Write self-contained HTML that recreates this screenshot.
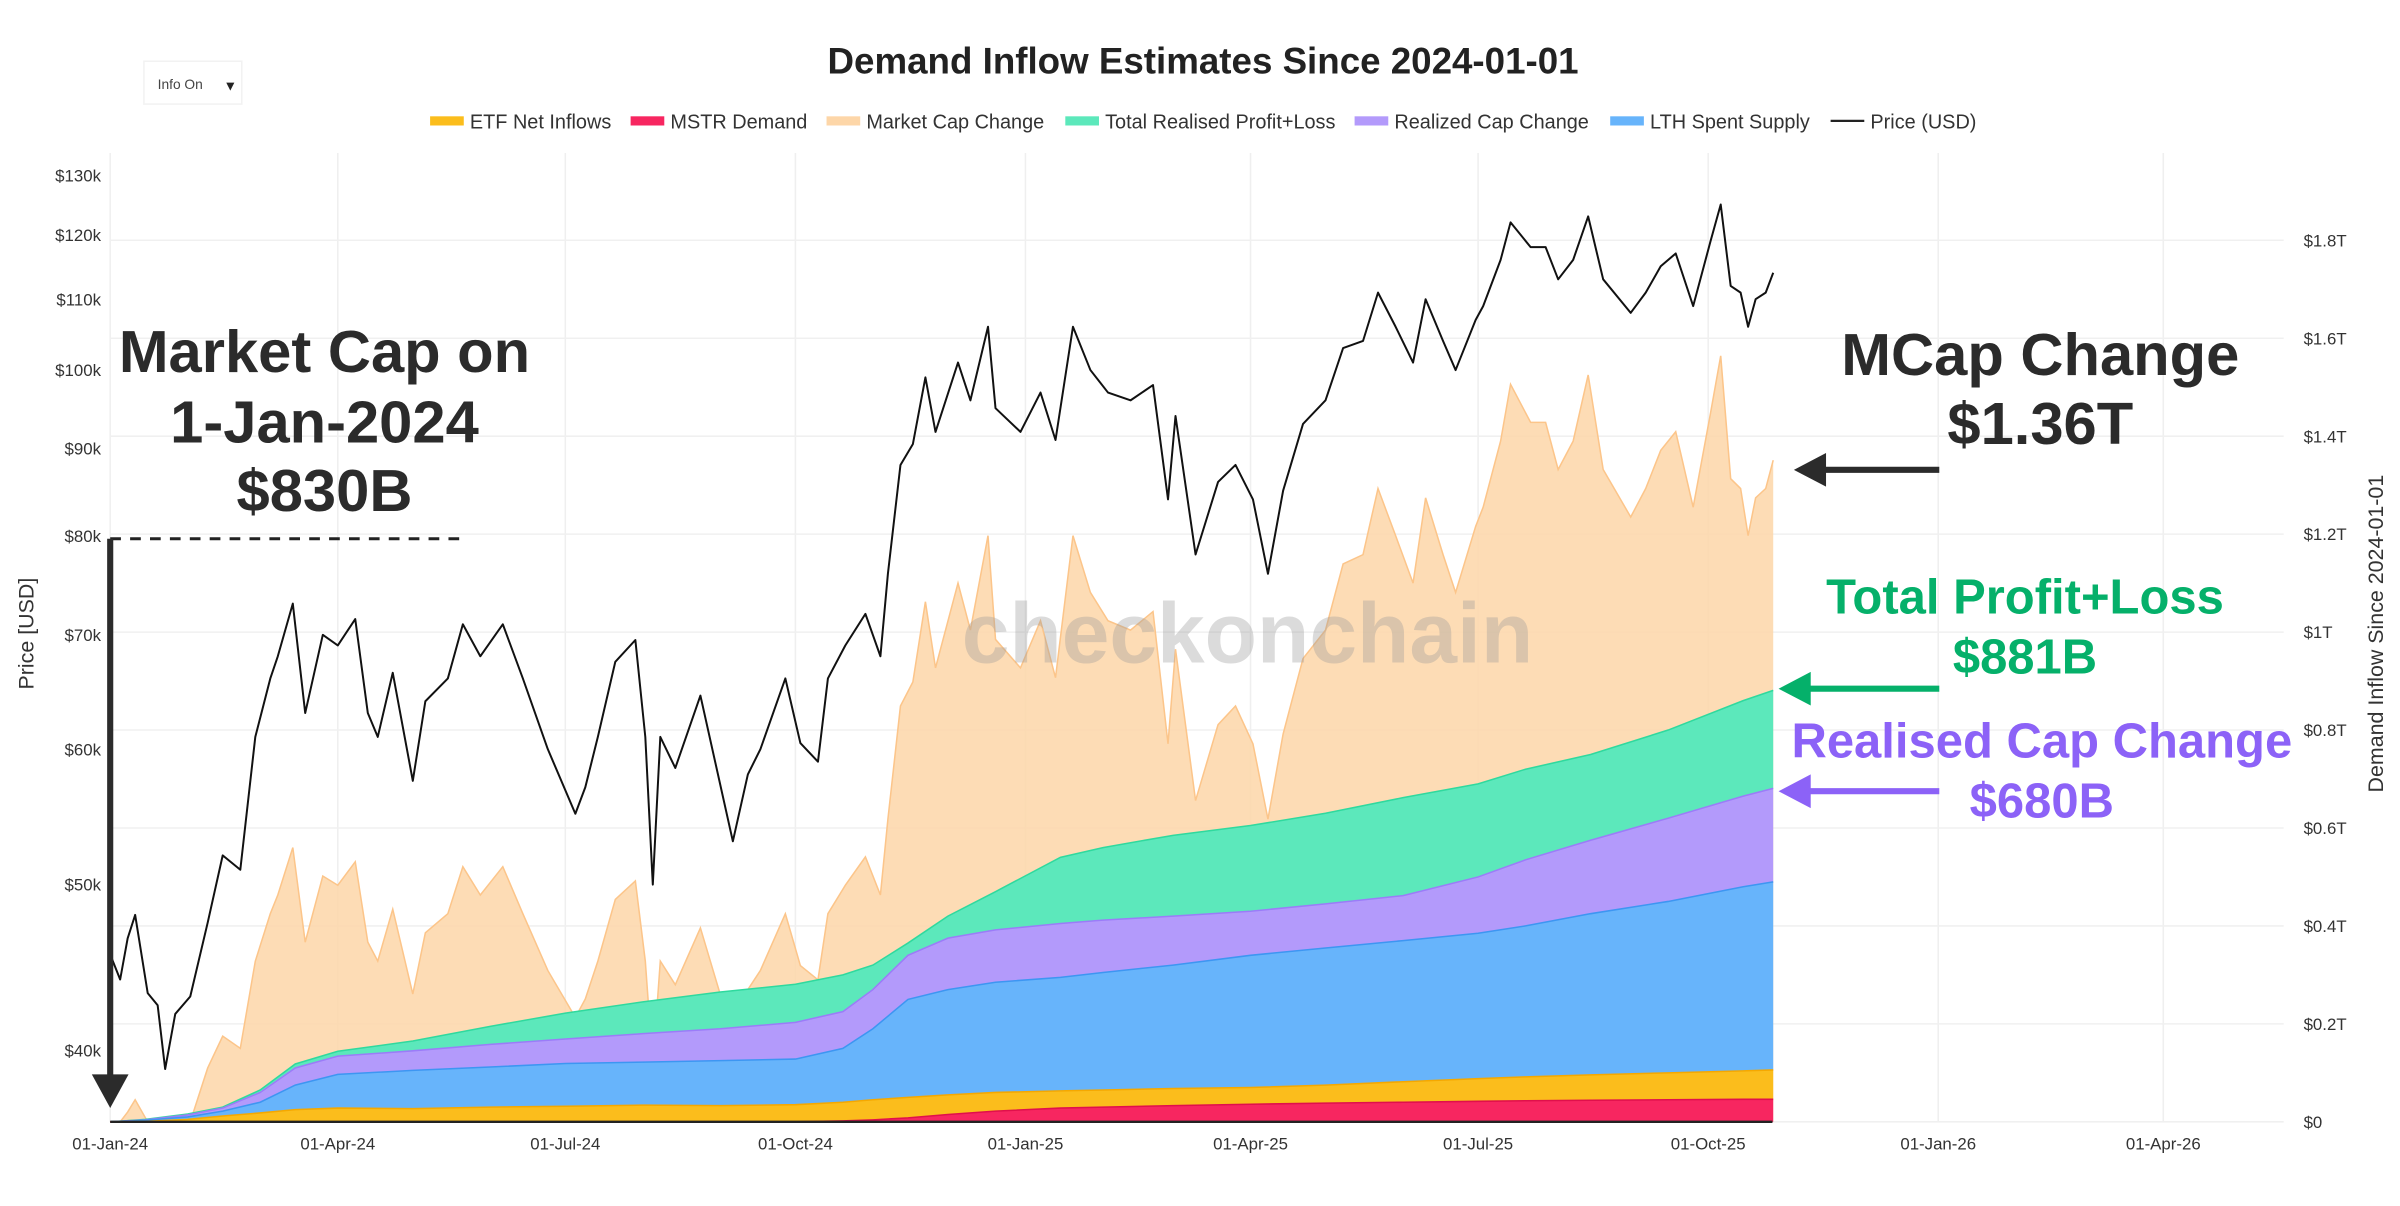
<!DOCTYPE html>
<html><head><meta charset="utf-8">
<style>
html,body{margin:0;padding:0;background:#fff;}
svg{display:block;font-family:"Liberation Sans",sans-serif;}
</style></head>
<body>
<svg id="chart" width="2400" height="1206" viewBox="0 0 1568 788" preserveAspectRatio="none" xmlns="http://www.w3.org/2000/svg">
  <rect x="0" y="0" width="1568" height="788" fill="#fff"/>
  <g id="grid"></g>
  <g id="areas"></g>
  <g id="priceG"></g>
  <g id="axes"></g>
  <text x="815" y="433" text-anchor="middle" font-size="56" font-weight="bold" fill="#999" fill-opacity="0.35">checkonchain</text>

  <text x="786" y="48" text-anchor="middle" font-size="24" font-weight="bold" fill="#222">Demand Inflow Estimates Since 2024-01-01</text>
  <g>
    <rect x="94" y="40" width="64" height="28" fill="#fff" stroke="#f2f2f2"/>
    <text x="103" y="58" font-size="9" fill="#444">Info On</text>
    <text x="146" y="59" font-size="9" fill="#222">▼</text>
  </g>
  <g id="legend"></g>

  <text transform="translate(22,414) rotate(-90)" text-anchor="middle" font-size="14" fill="#333">Price [USD]</text>
  <text transform="translate(1557,414) rotate(-90)" text-anchor="middle" font-size="14" fill="#333">Demand Inflow Since 2024-01-01</text>

  <g font-weight="bold" fill="#2b2b2b" font-size="39" text-anchor="middle">
    <text x="212" y="243">Market Cap on</text>
    <text x="212" y="289">1-Jan-2024</text>
    <text x="212" y="334">$830B</text>
  </g>
  <line x1="72" y1="352" x2="302" y2="352" stroke="#222" stroke-width="2" stroke-dasharray="7,6"/>
  <line x1="72" y1="352" x2="72" y2="705" stroke="#2b2b2b" stroke-width="4"/>
  <polygon points="60,702 84,702 72,724" fill="#2b2b2b"/>

  <g font-weight="bold" fill="#2b2b2b" font-size="39" text-anchor="middle">
    <text x="1333" y="245">MCap Change</text>
    <text x="1333" y="290">$1.36T</text>
  </g>
  <line x1="1190" y1="307" x2="1267" y2="307" stroke="#2b2b2b" stroke-width="4"/>
  <polygon points="1172,307 1193,296 1193,318" fill="#2b2b2b"/>

  <g font-weight="bold" fill="#05b06a" font-size="32" text-anchor="middle">
    <text x="1323" y="401">Total Profit+Loss</text>
    <text x="1323" y="440">$881B</text>
  </g>
  <line x1="1180" y1="450" x2="1267" y2="450" stroke="#05b06a" stroke-width="4"/>
  <polygon points="1162,450 1183,439 1183,461" fill="#05b06a"/>

  <g font-weight="bold" fill="#8c62f7" font-size="32" text-anchor="middle">
    <text x="1334" y="495">Realised Cap Change</text>
    <text x="1334" y="534">$680B</text>
  </g>
  <line x1="1180" y1="517" x2="1267" y2="517" stroke="#8c62f7" stroke-width="4"/>
  <polygon points="1162,517 1183,506 1183,528" fill="#8c62f7"/>
</svg>
<script>
// ---- data ----
const xTickLabels = ["01-Jan-24","01-Apr-24","01-Jul-24","01-Oct-24","01-Jan-25","01-Apr-25","01-Jul-25","01-Oct-25","01-Jan-26","01-Apr-26"];
const xTickDates = ["2024-01-01","2024-04-01","2024-07-01","2024-10-01","2025-01-01","2025-04-01","2025-07-01","2025-10-01","2026-01-01","2026-04-01"];
const priceTicks = [40,50,60,70,80,90,100,110,120,130];
const inflowTicks = [0,200,400,600,800,1000,1200,1400,1600,1800];
const inflowTickLabels = ["$0","$0.2T","$0.4T","$0.6T","$0.8T","$1T","$1.2T","$1.4T","$1.6T","$1.8T"];

const priceDates = ["2024-01-01","2024-01-05","2024-01-08","2024-01-11","2024-01-16","2024-01-20","2024-01-23","2024-01-27","2024-02-02","2024-02-09","2024-02-15","2024-02-22","2024-02-28","2024-03-05","2024-03-08","2024-03-14","2024-03-19","2024-03-26","2024-04-01","2024-04-08","2024-04-13","2024-04-17","2024-04-23","2024-05-01","2024-05-06","2024-05-15","2024-05-21","2024-05-28","2024-06-06","2024-06-14","2024-06-24","2024-07-05","2024-07-09","2024-07-14","2024-07-21","2024-07-29","2024-08-02","2024-08-05","2024-08-08","2024-08-14","2024-08-24","2024-09-06","2024-09-12","2024-09-17","2024-09-27","2024-10-03","2024-10-10","2024-10-14","2024-10-21","2024-10-29","2024-11-04","2024-11-07","2024-11-12","2024-11-17","2024-11-22","2024-11-26","2024-12-05","2024-12-10","2024-12-17","2024-12-20","2024-12-30","2025-01-07","2025-01-13","2025-01-20","2025-01-27","2025-02-03","2025-02-12","2025-02-21","2025-02-27","2025-03-02","2025-03-10","2025-03-19","2025-03-26","2025-04-02","2025-04-08","2025-04-14","2025-04-22","2025-05-01","2025-05-08","2025-05-16","2025-05-22","2025-05-29","2025-06-05","2025-06-10","2025-06-17","2025-06-22","2025-06-30","2025-07-03","2025-07-10","2025-07-14","2025-07-22","2025-07-28","2025-08-02","2025-08-08","2025-08-14","2025-08-20","2025-08-31","2025-09-06","2025-09-12","2025-09-18","2025-09-25","2025-10-02","2025-10-06","2025-10-10","2025-10-14","2025-10-17","2025-10-20","2025-10-24","2025-10-27"];
const priceK = [45.5,44,46.5,48,43.2,42.5,39,42,43,47.5,52,51,61,66,68,73,63,70,69,71.5,63,61,66.5,57.5,64,66,71,68,71,66,60,55,57,61,67.5,69.5,61,50,61,58.5,64.5,53,58,60,66,60.5,59,66,69,72,68,76,88,90.5,99,92,101,96,106,95,92,97,91,106,100,97,96,98,84,94,78,86,88,84,76,85,93,96,103,104,111,106,101,110,104,100,107,109,116,122,118,118,113,116,123,113,108,111,115,117,109,119,125,112,111,106,110,111,114];
const mcapChangeB = [0,0,20,45,0,0,0,0,0,110,175,150,328,425,463,560,367,502,483,531,367,328,434,261,386,425,521,463,521,425,309,213,251,328,454,492,328,116,328,280,396,174,270,309,425,319,290,425,483,541,463,618,849,898,1062,927,1100,1004,1197,985,927,1023,907,1197,1081,1023,1004,1042,772,965,656,811,849,772,618,792,946,1004,1139,1158,1293,1197,1100,1274,1158,1081,1216,1255,1390,1506,1428,1428,1332,1390,1525,1332,1235,1293,1371,1409,1255,1448,1564,1313,1293,1197,1274,1293,1351];

const flowDates = ["2024-01-01","2024-01-15","2024-02-01","2024-02-15","2024-03-01","2024-03-15","2024-04-01","2024-05-01","2024-06-01","2024-07-01","2024-08-01","2024-09-01","2024-10-01","2024-10-20","2024-11-01","2024-11-15","2024-12-01","2024-12-20","2025-01-15","2025-02-01","2025-03-01","2025-04-01","2025-05-01","2025-06-01","2025-07-01","2025-07-20","2025-08-15","2025-09-15","2025-10-15","2025-10-27"];
const mstrB   = [0,0,0,0,0,0,0,0,0,0,0,0,0,2,4,8,15,22,28,30,33,36,38,40,42,43,44,45,46,46];
const etfB    = [0,1,5,12,18,25,28,27,30,32,34,33,35,38,41,42,40,38,35,35,35,34,37,42,46,49,52,55,58,60];
const lthB    = [0,2,5,10,22,50,69,78,82,87,88,92,93,110,145,200,215,225,232,240,252,270,280,288,297,308,329,350,376,384];
const rcExtraB= [0,1,4,6,20,35,37,40,46,50,58,65,75,75,80,90,105,107,110,107,100,90,90,92,115,135,150,170,185,191];
const plExtraB= [0,1,2,2,5,8,10,20,37,53,65,75,78,75,50,25,45,78,135,148,165,175,185,200,190,185,175,180,195,200];

// ---- scales ----
const T0 = Date.UTC(2024,0,1);
function days(d){const p=d.split('-');return (Date.UTC(+p[0],+p[1]-1,+p[2])-T0)/86400000;}
function xS(d){return 72 + days(d)*1.6338;}
function yP(k){return 350 - 485*Math.log(k/80);}
function yR(b){return 733 - b*0.32;}

const NS="http://www.w3.org/2000/svg";
function mk(tag,attrs,parent){const e=document.createElementNS(NS,tag);for(const k in attrs)e.setAttribute(k,attrs[k]);parent.appendChild(e);return e;}

// grid
const grid=document.getElementById('grid');
xTickDates.forEach((d,i)=>{
  const l=mk('line',{x1:xS(d),x2:xS(d),y1:100,y2:733,stroke:'#efefef','stroke-width':1},grid);
  
  
});
inflowTicks.forEach(t=>{
  const l=mk('line',{x1:72,x2:1492,y1:yR(t),y2:yR(t),stroke:'#f0f0f0','stroke-width':1},grid);
  
  
});

// areas
const areas=document.getElementById('areas');
function areaPath(dates,tops,bottoms){
  let s='';
  dates.forEach((d,i)=>{s+=(i?'L':'M')+xS(d).toFixed(1)+','+yR(tops[i]).toFixed(1);});
  for(let i=dates.length-1;i>=0;i--){s+='L'+xS(dates[i]).toFixed(1)+','+yR(bottoms?bottoms[i]:0).toFixed(1);}
  return s+'Z';
}
function linePath(dates,vals,yf){
  let s='';dates.forEach((d,i)=>{s+=(i?'L':'M')+xS(d).toFixed(1)+','+yf(vals[i]).toFixed(1);});return s;
}
const mc=mk('path',{d:areaPath(priceDates,mcapChangeB),fill:'#fdd6a8','fill-opacity':0.85},areas);


const mcl=mk('path',{d:linePath(priceDates,mcapChangeB,yR),fill:'none',stroke:'#fcc58a','stroke-width':1},areas);



const s1=mstrB.slice();
const s2=s1.map((v,i)=>v+etfB[i]);
const s3=s2.map((v,i)=>v+lthB[i]);
const s4=s3.map((v,i)=>v+rcExtraB[i]);
const s5=s4.map((v,i)=>v+plExtraB[i]);
const layers=[
  [s5,s4,'#5ce8bb','#2fd99e','total-profit-loss-area'],
  [s4,s3,'#b39afb','#9b7cf8','realized-cap-change-area'],
  [s3,s2,'#67b4fb','#3d96f2','lth-spent-supply-area'],
  [s2,s1,'#fbbd1c','#f5a800','etf-net-inflows-area'],
  [s1,null,'#f72660','#e0104c','mstr-demand-area']
];
layers.forEach(L=>{
  const p=mk('path',{d:areaPath(flowDates,L[0],L[1]),fill:L[2]},areas);
  
  
  const ln=mk('path',{d:linePath(flowDates,L[0],yR),fill:'none',stroke:L[3],'stroke-width':1},areas);
  
  
});

// price line
const pg=document.getElementById('priceG');
const pl=mk('path',{d:linePath(priceDates,priceK,yP),fill:'none',stroke:'#111','stroke-width':1.3,'stroke-linejoin':'round'},pg);



// axes
const ax=document.getElementById('axes');
const base=mk('line',{x1:72,x2:1158,y1:733,y2:733,stroke:'#222','stroke-width':1.5},ax);


xTickDates.forEach((d,i)=>{
  const t=mk('text',{x:xS(d),y:751,'text-anchor':'middle','font-size':11,fill:'#333'},ax);
  t.textContent=xTickLabels[i];
  
  
});
priceTicks.forEach(v=>{
  const t=mk('text',{x:66,y:yP(v)+4,'text-anchor':'end','font-size':11,fill:'#333'},ax);
  t.textContent='$'+v+'k';
  
  
});
inflowTicks.forEach((v,i)=>{
  const t=mk('text',{x:1505,y:yR(v)+4,'font-size':11,fill:'#333'},ax);
  t.textContent=inflowTickLabels[i];
  
  
});

// legend
const lg=document.getElementById('legend');
const legendItems=[["ETF Net Inflows","#fbbd1c",281],["MSTR Demand","#f72660",412],["Market Cap Change","#fdd6a8",540],["Total Realised Profit+Loss","#5ce8bb",696],["Realized Cap Change","#b39afb",885],["LTH Spent Supply","#67b4fb",1052],["Price (USD)","#222",1196]];
legendItems.forEach(it=>{
  const g=mk('g',{},lg);
  
  
  if(it[0]==="Price (USD)") mk('line',{x1:it[2],x2:it[2]+22,y1:79,y2:79,stroke:it[1],'stroke-width':1.5},g);
  else mk('rect',{x:it[2],y:76,width:22,height:6,fill:it[1]},g);
  const t=mk('text',{x:it[2]+26,y:84,'font-size':13,fill:'#333'},g);
  t.textContent=it[0];
});
</script>
</body></html>
